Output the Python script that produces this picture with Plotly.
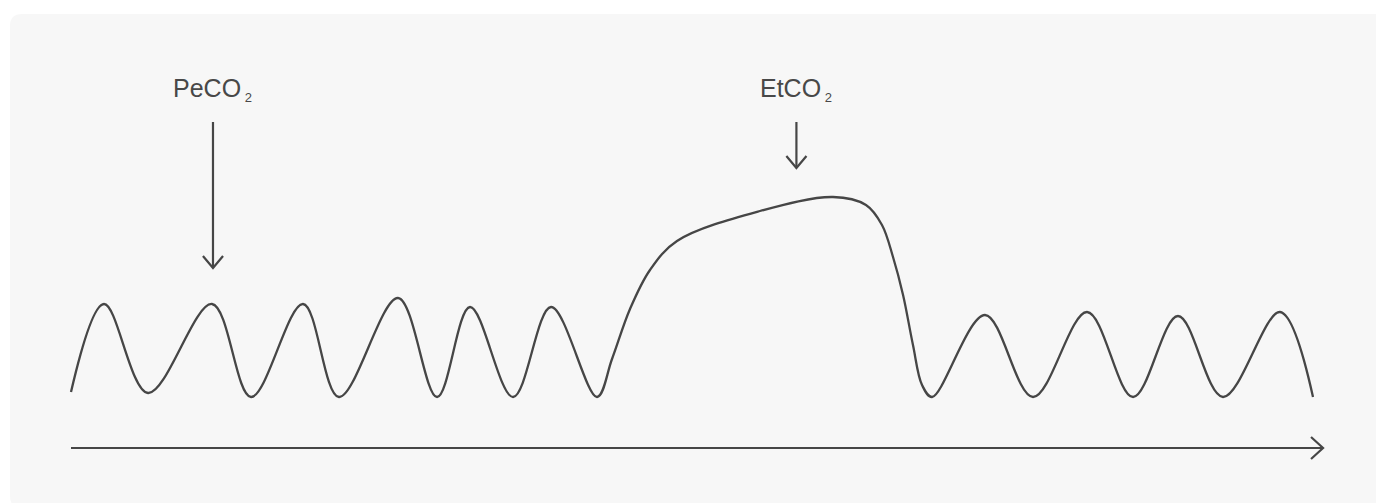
import plotly.graph_objects as go

# ---- data (time in arbitrary units, CO2 level in arbitrary units) ----
time = [0, 2.66, 6.21, 11.37, 14.52, 18.71, 21.61, 26.37, 29.52, 32.18, 35.65,
        38.71, 42.42, 43.63, 45.08, 46.69, 48.87, 55.56, 61.45, 64.11,
        65.40, 66.29, 67.10, 67.90, 68.63, 69.44, 73.71, 77.58, 81.94, 85.65,
        89.27, 92.9, 97.5, 100.16]
co2 = [1.0, 18.6, 0.8, 18.6, 0.0, 18.6, 0.0, 19.8, 0.0, 18.0, 0.0,
       18.0, 0.0, 7.6, 17.6, 25.4, 31.2, 37.2, 40.0, 38.4,
       34.4, 28.0, 20.4, 10.4, 2.4, 0.0, 16.4, 0.0, 17.0, 0.0,
       16.2, 0.0, 17.0, 0.0]

label_name = ["PeCO", "EtCO"]
label_sub = ["2", "2"]
label_x = [11.45, 58.5]
label_top = [55.0, 55.0]
label_tip = [25.8, 45.8]

axis_start = 0.0
axis_end = 100.97
axis_level = -10.2

INK = "#464646"
TXT = "#484848"
W, H = 1376, 503
XR = [-5.726, 105.24]
YR = [-21.2, 79.4]

fig = go.Figure()

# waveform
fig.add_trace(go.Scatter(x=time, y=co2, mode="lines",
                         line=dict(color=INK, width=2.3, shape="spline", smoothing=1.0),
                         hoverinfo="skip", showlegend=False))

dx_t = 0.81   # chevron half width in time units
dy_c = 2.4    # chevron depth in co2 units

for lx, top, tip, name, sub in zip(label_x, label_top, label_tip, label_name, label_sub):
    fig.add_trace(go.Scatter(x=[lx, lx], y=[top, tip], mode="lines",
                             line=dict(color=INK, width=2.2), hoverinfo="skip", showlegend=False))
    fig.add_trace(go.Scatter(x=[lx - dx_t, lx, lx + dx_t], y=[tip + dy_c, tip, tip + dy_c],
                             mode="lines", line=dict(color=INK, width=2.2),
                             hoverinfo="skip", showlegend=False))
    fig.add_annotation(x=lx, y=top + 6.6,
                       text=f"{name}<sub><span style='font-size:13px'> {sub}</span></sub>",
                       showarrow=False, xanchor="center", yanchor="middle",
                       font=dict(family="Liberation Sans, Arial, sans-serif", size=25, color=TXT))

# time axis arrow
fig.add_trace(go.Scatter(x=[axis_start, axis_end], y=[axis_level, axis_level], mode="lines",
                         line=dict(color=INK, width=2.2), hoverinfo="skip", showlegend=False))
fig.add_trace(go.Scatter(x=[axis_end - 0.97, axis_end, axis_end - 0.97],
                         y=[axis_level + 2.2, axis_level, axis_level - 2.2], mode="lines",
                         line=dict(color=INK, width=2.2), hoverinfo="skip", showlegend=False))

# rounded background panel (paper coords)
x0, y0, x1, y1 = 10 / W, 1 - 14 / H, 1376 / W + 0.01, 0.0 - 0.01
rx, ry = 12 / W, 12 / H
path = (f"M {x0+rx},{y0} L {x1-rx},{y0} Q {x1},{y0} {x1},{y0-ry} "
        f"L {x1},{y1+ry} Q {x1},{y1} {x1-rx},{y1} L {x0+rx},{y1} Q {x0},{y1} {x0},{y1+ry} "
        f"L {x0},{y0-ry} Q {x0},{y0} {x0+rx},{y0} Z")
fig.add_shape(type="path", path=path, xref="paper", yref="paper",
              fillcolor="#f7f7f7", line=dict(width=0), layer="below")

fig.update_layout(
    width=W, height=H,
    margin=dict(l=0, r=0, t=0, b=0),
    paper_bgcolor="white", plot_bgcolor="rgba(0,0,0,0)",
    xaxis=dict(range=XR, visible=False, fixedrange=True),
    yaxis=dict(range=YR, visible=False, fixedrange=True),
    showlegend=False,
)

fig.write_html("out.html", config={"displayModeBar": False},
               post_script="document.body.style.margin='0';document.body.style.overflow='hidden';")
